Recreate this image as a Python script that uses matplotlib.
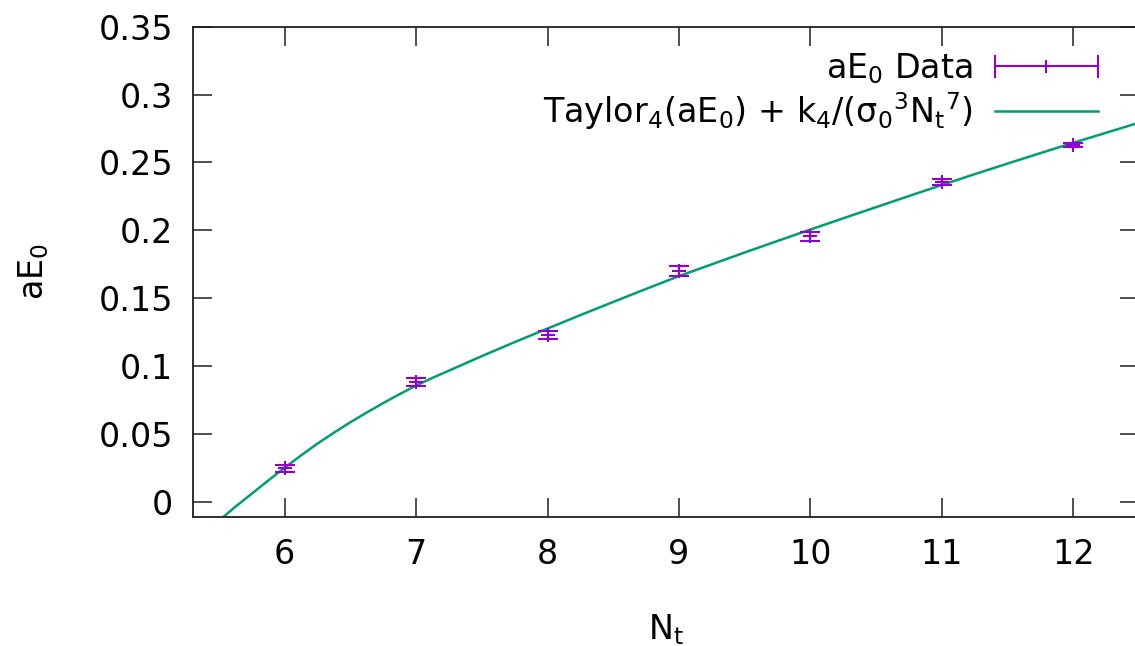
import matplotlib
matplotlib.use("Agg")
import matplotlib.pyplot as plt
from matplotlib.lines import Line2D
from matplotlib.legend_handler import HandlerBase

plt.rcParams['font.family'] = ['DejaVu Sans']
plt.rcParams['mathtext.default'] = 'regular'

# ---- data ----
nt = [6, 7, 8, 9, 10, 11, 12]
ae0 = [0.0249, 0.0881, 0.1228, 0.1701, 0.1955, 0.2354, 0.2632]
ae0_err = [0.0026, 0.0030, 0.0031, 0.0036, 0.0033, 0.0022, 0.0015]

fit_nt = [5.50, 5.536, 5.625, 5.75, 5.875, 6.00, 6.125, 6.25, 6.375, 6.50,
          6.625, 6.75, 6.875, 7.00, 7.125, 7.25, 7.50, 7.75, 8.00, 8.25,
          8.50, 8.75, 9.00, 9.25, 9.50, 9.75, 10.00, 10.25, 10.50, 10.75,
          11.00, 11.25, 11.50, 11.75, 12.00, 12.25, 12.50]
fit_ae0 = [-0.0140, -0.0109, -0.0035, 0.0061, 0.0158, 0.0252, 0.0343, 0.0430,
           0.0510, 0.0587, 0.0659, 0.0728, 0.0794, 0.0857, 0.0914, 0.0967,
           0.1074, 0.1177, 0.1277, 0.1376, 0.1473, 0.1569, 0.1663, 0.1750,
           0.1837, 0.1922, 0.2006, 0.2089, 0.2171, 0.2253, 0.2334, 0.2414,
           0.2492, 0.2569, 0.2645, 0.2719, 0.2793]

xticks = [6, 7, 8, 9, 10, 11, 12]
yticks = [0, 0.05, 0.1, 0.15, 0.2, 0.25, 0.3, 0.35]
ytick_labels = ['0', '0.05', '0.1', '0.15', '0.2', '0.25', '0.3', '0.35']

PURPLE = '#9400D3'
GREEN = '#009E73'
FS = 24

W, H = 1135, 646
fig = plt.figure(figsize=(W / 100, H / 100), dpi=100)
left, right, bottom, top = 192.7, 1139.0, 516.7, 26.7
ax = fig.add_axes([left / W, 1 - bottom / H, (right - left) / W, (bottom - top) / H])

ax.plot(fit_nt, fit_ae0, color=GREEN, lw=1.8, zorder=2)
ax.errorbar(nt, ae0, yerr=ae0_err, fmt='+', color=PURPLE, ecolor=PURPLE,
            elinewidth=1.5, capsize=7.2, capthick=1.5, markersize=10,
            markeredgewidth=1.5, zorder=3)

ax.set_xlim(5.3, 12.5)
ax.set_ylim(-0.0109, 0.35)
ax.set_xticks(xticks)
ax.set_xticklabels([str(v) for v in xticks])
ax.set_yticks(yticks)
ax.set_yticklabels(ytick_labels)
ax.tick_params(direction='in', length=13.5, width=1.1, labelsize=FS,
               top=True, right=True, colors='#202020', labelcolor='black')
ax.tick_params(axis='x', pad=15)
ax.tick_params(axis='y', pad=14)
for s in ax.spines.values():
    s.set_linewidth(1.3)
    s.set_color('#202020')

ax.set_xlabel(r'N$_\mathrm{t}$', fontsize=FS, labelpad=30)
ax.set_ylabel(r'aE$_0$', fontsize=FS, labelpad=34)


class HandlerGnuErr(HandlerBase):
    def create_artists(self, legend, orig_handle, xdescent, ydescent,
                       width, height, fontsize, trans):
        y = height / 2 - ydescent
        x0 = -xdescent
        x1 = x0 + width
        xm = (x0 + x1) / 2
        cap = 0.31 * fontsize
        kw = dict(color=PURPLE, lw=1.5, transform=trans)
        return [Line2D([x0, x1], [y, y], **kw),
                Line2D([x0, x0], [y - cap, y + cap], **kw),
                Line2D([x1, x1], [y - cap, y + cap], **kw),
                Line2D([xm, xm], [y - cap / 2, y + cap / 2], **kw)]


err_proxy = Line2D([], [], color=PURPLE)
fit_proxy = Line2D([], [], color=GREEN, lw=1.8)
leg = fig.legend([err_proxy, fit_proxy],
                 [r'aE$_0$ Data',
                  r'Taylor$_4$(aE$_0$) + k$_4$/(σ$_0$$^3$N$_\mathrm{t}$$^7$)'],
                 handler_map={err_proxy: HandlerGnuErr()},
                 loc='upper right', bbox_to_anchor=(1098 / W, 1 - 51 / H),
                 frameon=False, fontsize=FS, markerfirst=False,
                 handlelength=3.1, handletextpad=0.66, labelspacing=0.14,
                 borderpad=0, borderaxespad=0)
for t in leg.get_texts():
    t.set_ha('right')

fig.savefig('out.png', dpi=100)
